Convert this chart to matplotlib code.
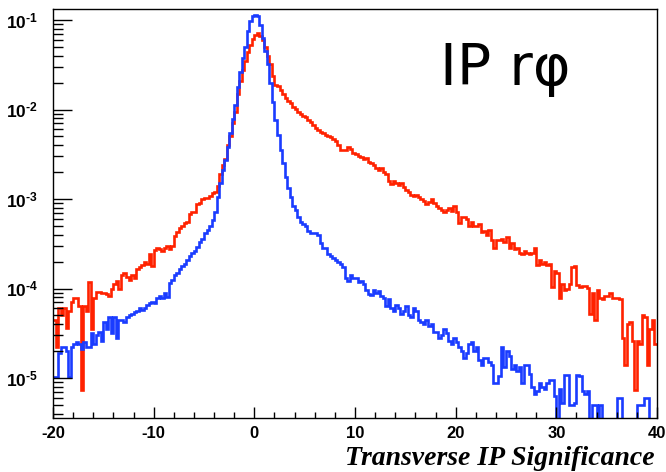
import numpy as np
import matplotlib
matplotlib.use("Agg")
import matplotlib.pyplot as plt
from matplotlib.ticker import LogLocator, FuncFormatter, NullFormatter, MultipleLocator

# histogram range, 240 bins of 0.25
x_min = -20
x_max = 40
x_ticks = [-20, -10, 0, 10, 20, 30, 40]

# red histogram, bin contents (4 bins per unit, rows of 2 units)
red = np.array([
    4.5e-5, 2.2e-5, 6.0e-5, 5.0e-5, 6.0e-5, 3.6e-5, 5.6e-5, 7.1e-5,          # -20
    7.9e-5, 7.9e-5, 6.3e-5, 7.4e-6, 6.3e-5, 5.6e-5, 1.17e-4, 3.5e-5,         # -18
    7.9e-5, 9.1e-5, 9.1e-5, 8.9e-5, 8.9e-5, 8.7e-5, 8.3e-5, 1.0e-4,          # -16
    1.12e-4, 1.2e-4, 1.0e-4, 1.41e-4, 1.5e-4, 1.35e-4, 1.26e-4, 1.41e-4,     # -14
    1.32e-4, 1.66e-4, 1.74e-4, 1.82e-4, 2.0e-4, 1.9e-4, 2.4e-4, 1.78e-4,     # -12
    2.7e-4, 2.8e-4, 2.75e-4, 2.6e-4, 2.8e-4, 2.95e-4, 2.75e-4, 3.0e-4,       # -10
    3.9e-4, 4.3e-4, 4.7e-4, 5.0e-4, 5.4e-4, 5.6e-4, 6.8e-4, 7.1e-4,          # -8
    7.2e-4, 8.9e-4, 9.1e-4, 1.0e-3, 1.02e-3, 1.02e-3, 1.07e-3, 1.17e-3,      # -6
    1.2e-3, 1.41e-3, 1.9e-3, 2.4e-3, 2.8e-3, 4.0e-3, 5.0e-3, 7.1e-3,         # -4
    9.5e-3, 1.51e-2, 2.1e-2, 2.8e-2, 3.5e-2, 4.4e-2, 5.2e-2, 6.2e-2,         # -2
    6.9e-2, 7.2e-2, 6.6e-2, 6.0e-2, 5.0e-2, 4.0e-2, 3.2e-2, 2.4e-2,          # 0
    1.9e-2, 1.82e-2, 1.66e-2, 1.48e-2, 1.35e-2, 1.26e-2, 1.17e-2, 1.07e-2,   # 2
    1.02e-2, 9.5e-3, 8.9e-3, 8.5e-3, 8.3e-3, 7.6e-3, 7.2e-3, 6.8e-3,         # 4
    6.3e-3, 5.9e-3, 5.6e-3, 5.4e-3, 5.2e-3, 5.0e-3, 4.9e-3, 4.7e-3,          # 6
    4.5e-3, 4.0e-3, 3.5e-3, 3.5e-3, 3.5e-3, 3.8e-3, 3.6e-3, 3.3e-3,          # 8
    3.2e-3, 3.0e-3, 2.95e-3, 2.8e-3, 2.9e-3, 2.6e-3, 2.5e-3, 2.4e-3,         # 10
    2.2e-3, 2.1e-3, 2.2e-3, 2.0e-3, 1.9e-3, 1.58e-3, 1.48e-3, 1.58e-3,       # 12
    1.51e-3, 1.45e-3, 1.51e-3, 1.38e-3, 1.26e-3, 1.2e-3, 1.12e-3, 1.07e-3,   # 14
    1.1e-3, 1.05e-3, 1.0e-3, 9.5e-4, 8.9e-4, 9.3e-4, 1.0e-3, 9.1e-4,         # 16
    8.3e-4, 7.9e-4, 7.6e-4, 7.2e-4, 7.6e-4, 7.9e-4, 7.4e-4, 8.3e-4,          # 18
    7.1e-4, 5.4e-4, 6.3e-4, 6.3e-4, 6.0e-4, 5.0e-4, 5.6e-4, 5.0e-4,          # 20
    5.0e-4, 5.2e-4, 4.3e-4, 4.4e-4, 4.0e-4, 4.5e-4, 3.5e-4, 2.8e-4,          # 22
    3.5e-4, 3.5e-4, 3.6e-4, 3.3e-4, 3.8e-4, 2.8e-4, 3.2e-4, 2.75e-4,         # 24
    2.8e-4, 2.5e-4, 2.4e-4, 2.6e-4, 2.5e-4, 2.4e-4, 2.5e-4, 2.8e-4,          # 26
    1.82e-4, 2.1e-4, 1.9e-4, 2.0e-4, 1.82e-4, 1.86e-4, 1.05e-4, 1.58e-4,     # 28
    1.5e-4, 7.9e-5, 1.12e-4, 9.5e-5, 1.0e-4, 1.12e-4, 1.74e-4, 1.78e-4,      # 30
    1.1e-4, 1.05e-4, 1.07e-4, 1.07e-4, 1.02e-4, 5.2e-5, 8.9e-5, 4.5e-5,      # 32
    9.5e-5, 7.9e-5, 7.6e-5, 8.3e-5, 8.3e-5, 8.9e-5, 7.9e-5, 7.9e-5,          # 34
    7.9e-5, 7.6e-5, 2.8e-5, 1.41e-5, 4.0e-5, 4.2e-5, 2.6e-5, 7.4e-6,         # 36
    2.6e-5, 2.4e-5, 5.0e-5, 4.8e-5, 1.41e-5, 3.5e-5, 4.5e-5, 2.4e-5,         # 38
])

# blue histogram (0 = empty bin)
blue = np.array([
    1.02e-5, 1.02e-5, 1.9e-5, 2.2e-5, 2.2e-5, 2.0e-5, 1.02e-5, 2.2e-5,       # -20
    2.4e-5, 2.5e-5, 2.4e-5, 2.1e-5, 2.5e-5, 2.2e-5, 2.2e-5, 3.2e-5,          # -18
    2.4e-5, 3.0e-5, 3.3e-5, 2.6e-5, 4.2e-5, 3.5e-5, 4.8e-5, 3.2e-5,          # -16
    4.8e-5, 2.8e-5, 4.5e-5, 4.5e-5, 4.2e-5, 4.8e-5, 5.0e-5, 5.2e-5,          # -14
    5.5e-5, 5.6e-5, 6.0e-5, 5.8e-5, 6.0e-5, 6.6e-5, 6.9e-5, 7.1e-5,          # -12
    6.9e-5, 7.9e-5, 8.3e-5, 7.9e-5, 8.9e-5, 8.1e-5, 1.15e-4, 1.26e-4,        # -10
    1.41e-4, 1.5e-4, 1.66e-4, 1.78e-4, 1.9e-4, 2.1e-4, 2.3e-4, 2.5e-4,       # -8
    2.6e-4, 2.9e-4, 3.3e-4, 3.6e-4, 4.2e-4, 4.5e-4, 5.0e-4, 5.8e-4,          # -6
    7.1e-4, 1.05e-3, 1.51e-3, 2.1e-3, 2.7e-3, 3.8e-3, 5.5e-3, 7.9e-3,        # -4
    1.12e-2, 1.78e-2, 2.6e-2, 3.8e-2, 5.0e-2, 7.6e-2, 9.8e-2, 0.112,         # -2
    0.115, 0.11, 8.7e-2, 6.3e-2, 4.5e-2, 3.2e-2, 2.0e-2, 1.2e-2,             # 0
    7.6e-3, 5.2e-3, 3.5e-3, 2.5e-3, 1.78e-3, 1.32e-3, 1.05e-3, 8.3e-4,       # 2
    7.6e-4, 6.3e-4, 5.6e-4, 5.2e-4, 5.0e-4, 4.4e-4, 4.2e-4, 4.2e-4,          # 4
    4.2e-4, 4.0e-4, 3.2e-4, 2.8e-4, 2.8e-4, 2.4e-4, 2.3e-4, 2.2e-4,          # 6
    2.1e-4, 2.0e-4, 1.9e-4, 1.74e-4, 1.32e-4, 1.2e-4, 1.41e-4, 1.32e-4,      # 8
    1.32e-4, 1.17e-4, 1.2e-4, 1.12e-4, 9.5e-5, 8.7e-5, 8.5e-5, 9.5e-5,       # 10
    8.9e-5, 9.3e-5, 8.3e-5, 7.9e-5, 6.3e-5, 7.6e-5, 6.0e-5, 5.6e-5,          # 12
    6.6e-5, 6.0e-5, 5.2e-5, 5.6e-5, 6.3e-5, 5.0e-5, 4.8e-5, 6.0e-5,          # 14
    5.6e-5, 4.5e-5, 4.2e-5, 4.0e-5, 4.5e-5, 3.8e-5, 4.0e-5, 3.3e-5,          # 16
    3.3e-5, 2.8e-5, 3.0e-5, 3.5e-5, 3.2e-5, 2.6e-5, 2.4e-5, 2.8e-5,          # 18
    2.5e-5, 2.2e-5, 2.0e-5, 1.66e-5, 1.9e-5, 2.4e-5, 2.5e-5, 2.0e-5,         # 20
    2.2e-5, 1.58e-5, 1.41e-5, 1.66e-5, 1.66e-5, 1.51e-5, 1.38e-5, 8.9e-6,    # 22
    8.9e-6, 1.05e-5, 2.2e-5, 1.32e-5, 2.0e-5, 1.78e-5, 1.26e-5, 1.41e-5,     # 24
    1.2e-5, 1.32e-5, 8.9e-6, 1.38e-5, 1.41e-5, 1.12e-5, 7.9e-6, 6.6e-6,      # 26
    7.1e-6, 8.9e-6, 7.9e-6, 7.6e-6, 8.9e-6, 9.5e-6, 9.5e-6, 6.3e-6,          # 28
    0, 7.6e-6, 5.2e-6, 1.07e-5, 1.07e-5, 5.0e-6, 5.0e-6, 5.2e-6,             # 30
    1.07e-5, 1.05e-5, 7.1e-6, 6.6e-6, 7.1e-6, 0, 5.0e-6, 5.0e-6,             # 32
    0, 5.0e-6, 0, 0, 0, 0, 0, 0,                                             # 34
    6.0e-6, 6.0e-6, 0, 0, 0, 0, 0, 0,                                        # 36
    5.0e-6, 5.0e-6, 5.0e-6, 6.0e-6, 6.0e-6, 0, 0, 0,                         # 38
])

plt.rcParams['mathtext.fontset'] = 'custom'
plt.rcParams['mathtext.rm'] = 'Liberation Sans:bold'
plt.rcParams['mathtext.bf'] = 'Liberation Sans:bold'
plt.rcParams['mathtext.it'] = 'Liberation Sans:bold'

fig = plt.figure(figsize=(6.66, 4.72), dpi=100)
ax = fig.add_axes([53/666, 1-418/472, 604/666, 409/472])

edges = np.linspace(x_min, x_max, len(red) + 1)
# empty bins get pushed below the frame so the line runs along the bottom like ROOT does
ax.stairs(np.where(red > 0, red, 1e-9), edges, color='#ff2200', lw=1.9, baseline=None)
ax.stairs(np.where(blue > 0, blue, 1e-9), edges, color='#1a3cff', lw=1.9, baseline=None)

ax.set_yscale('log')
ax.set_xlim(x_min, x_max)
ax.set_ylim(3.57e-6, 0.133)

ax.yaxis.set_major_locator(LogLocator(base=10))
ax.yaxis.set_minor_locator(LogLocator(base=10, subs=np.arange(2, 10)))
# ROOT writes the exponent with a short hyphen, not a wide minus
ax.yaxis.set_major_formatter(FuncFormatter(lambda v, p: r'$\mathbf{10}^{\text{-}%d}$' % abs(round(np.log10(v)))))
ax.yaxis.set_minor_formatter(NullFormatter())

ax.set_xticks(x_ticks)
ax.set_xticklabels([str(t) for t in x_ticks], fontsize=12, fontweight='bold', family='Liberation Sans')
ax.xaxis.set_minor_locator(MultipleLocator(2))

ax.tick_params(axis='y', which='major', direction='in', length=13.5, width=1, pad=11, labelsize=12.5)
ax.tick_params(axis='y', which='minor', direction='in', length=7, width=1)
ax.tick_params(axis='x', which='major', direction='in', length=8, width=1, pad=6)
ax.tick_params(axis='x', which='minor', direction='in', length=4.5, width=1)
for s in ax.spines.values():
    s.set_linewidth(1)

# axis title, ROOT style bold italic at the right end
fig.text(655/666, 1-465/472, 'Transverse IP Significance', ha='right', va='baseline',
         family='Liberation Serif', style='italic', weight='bold', fontsize=20)
fig.text(440/666, 1-85/472, 'IP r\u03c6', ha='left', va='baseline', family='DejaVu Sans', fontsize=41)

fig.savefig('out.png', dpi=100)
